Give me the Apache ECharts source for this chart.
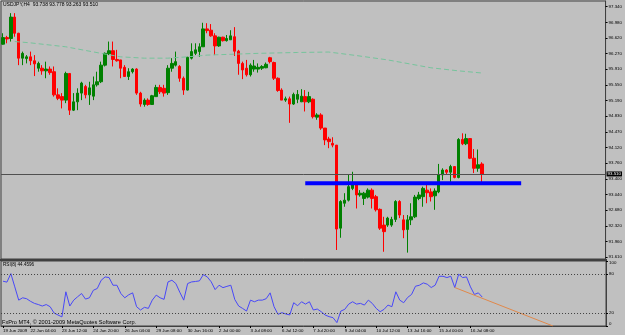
<!DOCTYPE html>
<html><head><meta charset="utf-8">
<script src="https://cdn.jsdelivr.net/npm/echarts@6/dist/echarts.min.js"></script>
<style>html,body{margin:0;padding:0;background:#c0c0c0}#c{width:625px;height:335px}</style>
</head><body><div id="c"></div><script>
const symbolTitle = 'USDJPY,H4  93.738 93.778 93.263 93.510';
const rsiTitle = 'RSI(8) 44.4596';
const footerText = 'FxPro MT4, \u00a9 2001-2009 MetaQuotes Software Corp.';
const timeLabels = ['19 Jun 2009','22 Jun 04:00','23 Jun 12:00','24 Jun 20:00','26 Jun 04:00','29 Jun 08:00','30 Jun 16:00','2 Jul 00:00','3 Jul 08:00','6 Jul 12:00','7 Jul 20:00','9 Jul 04:00','10 Jul 12:00','13 Jul 16:00','15 Jul 00:00','16 Jul 08:00'];
const priceTicks = [97.34,96.98,96.62,96.27,95.91,95.55,95.19,94.83,94.47,94.12,93.76,93.40,93.04,92.68,92.32,91.96,91.61];
const rsiTicks = [0,20,80,100];
const bidPrice = 93.51;
// [open, close, low, high]
const candles = [
[96.48,96.63,96.47,96.73],[96.63,96.60,96.50,96.67],[96.61,97.10,96.54,97.19],[97.10,96.73,96.65,97.19],
[96.73,96.16,96.00,96.74],[96.16,96.27,96.00,96.31],[96.15,96.19,96.04,96.23],[96.19,96.10,96.00,96.31],
[96.10,96.03,95.75,96.23],[95.93,96.04,95.85,96.08],[95.93,95.87,95.78,96.00],[95.87,95.91,95.70,96.08],
[95.91,95.83,95.78,95.97],[95.85,95.32,95.28,95.97],[95.32,95.24,95.20,95.47],[95.28,95.20,95.01,95.36],
[95.20,95.81,95.13,95.85],[95.81,94.97,94.86,95.81],[94.97,95.16,94.95,95.36],[95.16,95.36,94.97,95.47],
[95.36,95.59,95.20,95.62],[95.51,95.32,95.24,95.55],[95.32,95.48,95.09,95.62],[95.29,95.55,95.20,95.74],
[95.55,95.62,95.51,95.85],[95.62,96.00,95.59,96.08],[96.00,96.27,95.97,96.29],[96.26,96.33,96.23,96.54],
[96.33,96.13,95.97,96.54],[96.13,96.10,96.08,96.35],[96.12,95.93,95.70,96.12],[95.95,95.74,95.73,96.00],
[95.74,95.85,95.66,95.93],[95.85,95.91,95.81,95.93],[95.91,95.36,95.32,95.93],[95.36,95.11,95.05,95.39],
[95.10,95.20,95.05,95.24],[95.20,95.10,95.07,95.24],[95.10,95.30,95.09,95.32],[95.28,95.49,95.28,95.55],
[95.49,95.39,95.34,95.55],[95.47,95.36,95.28,95.55],[95.37,95.93,95.32,96.00],[95.93,96.04,95.85,96.16],
[96.00,96.08,95.97,96.31],[95.97,95.70,95.62,96.00],[95.70,95.43,95.32,95.74],[95.43,96.18,95.42,96.19],
[96.16,96.31,96.13,96.50],[96.27,96.35,96.23,96.50],[96.31,96.42,96.19,96.50],[96.42,96.83,96.42,96.97],
[96.83,96.79,96.73,96.96],[96.80,96.67,96.65,96.94],[96.67,96.44,96.23,96.73],[96.44,96.64,96.42,96.65],
[96.64,96.56,96.54,96.65],[96.56,96.61,96.54,96.69],[96.58,96.67,96.58,96.80],[96.65,96.32,96.21,96.87],
[96.32,96.04,95.78,96.35],[96.04,95.89,95.68,96.08],[95.93,95.78,95.74,96.12],[95.78,96.00,95.74,96.04],
[95.91,95.98,95.85,96.12],[95.91,95.95,95.83,96.04],[95.93,95.97,95.89,96.00],[95.94,96.02,95.93,96.06],
[96.17,96.08,96.04,96.19],[96.06,95.70,95.66,96.08],[95.70,95.42,95.39,95.72],[95.43,95.20,95.20,95.47],
[95.20,95.23,95.16,95.28],[95.23,95.11,94.68,95.28],[95.11,95.33,95.09,95.37],[95.22,95.33,95.13,95.43],
[95.16,95.29,95.16,95.45],[95.28,95.16,94.94,95.43],[95.16,95.28,95.13,95.39],[95.22,94.82,94.78,95.24],
[94.81,94.86,94.75,94.90],[94.86,94.56,94.52,94.90],[94.56,94.29,94.17,94.56],[94.31,94.25,94.10,94.36],
[94.21,94.17,94.12,94.35],[94.17,92.25,91.77,94.17],[92.27,92.88,92.05,92.91],[92.84,92.91,92.76,93.07],
[92.91,93.22,92.88,93.49],[93.18,93.30,93.14,93.56],[93.30,93.03,92.72,93.30],[93.03,93.07,92.99,93.14],
[92.95,93.07,92.80,93.10],[92.98,93.14,92.95,93.18],[93.14,92.95,92.72,93.18],[92.99,92.69,92.65,93.03],
[92.70,92.27,92.23,92.72],[92.34,92.19,91.73,92.53],[92.34,92.50,92.30,92.53],[92.34,92.47,92.30,92.53],
[92.47,92.88,92.41,92.91],[92.88,92.57,92.50,92.91],[92.46,92.23,92.04,92.57],[92.24,92.46,91.71,92.57],
[92.46,92.53,92.34,92.84],[92.53,92.98,92.50,93.03],[92.95,93.03,92.91,93.10],[92.99,93.18,92.76,93.22],
[93.14,93.08,92.84,93.31],[93.10,92.99,92.88,93.18],[93.01,93.12,92.69,93.18],[93.10,93.49,93.07,93.74],
[93.49,93.60,93.37,93.64],[93.60,93.55,93.49,93.62],[93.55,93.68,93.30,93.72],[93.68,93.43,93.41,93.69],
[93.43,94.30,93.41,94.33],[94.30,94.20,94.17,94.44],[94.20,94.32,94.17,94.43],[94.32,93.87,93.85,94.33],
[93.87,93.64,93.53,94.08],[93.64,93.72,93.56,94.07],[93.738,93.51,93.263,93.778]
];
const maPoints = [[3,96.54],[7,96.51],[16,96.42],[25,96.27],[30,96.19],[36,96.16],[42,96.16],[47,96.19],[52,96.23],[65,96.27],[75,96.29],[83,96.30],[90,96.22],[98,96.12],[109,95.94],[116,95.87],[122,95.82]];
const rsiValues = [68.9,67.5,80.6,60.2,39.8,43.4,42,38,34.8,33,30.7,33,29.7,20,16.9,14,52.6,30.7,39.8,45,
50,41.4,43.4,55,57.7,70.4,75.5,74.5,62.7,62.7,50,43.4,48,51,29.7,24.6,28.7,27.1,39.8,47.5,
43.4,41,67.8,70.4,65.3,52,39.8,65.3,67.8,68.5,69.4,79,75.5,68,56,62.7,59,61,62.7,40.8,
30.7,27,23,39.8,37.3,39.8,39.8,42,51,29.7,18,20.5,18.5,17,35.8,31.2,37.3,33.7,37.3,24.6,
26.1,22,16.9,14.4,12.9,5.2,23,25.6,33.7,37.3,33.7,34.8,32.2,39.8,34.8,27.1,22,25.6,32.2,29.7,
52.6,39.8,35.8,43.9,48.5,61.2,62.7,66.3,64.3,59.2,62.7,76.5,76.5,74.5,76.5,59.2,79.6,74.5,75.5,60.2,
48.5,51,44.46];
const supportLine = [[77,93.30],[132,93.30]];
const rsiTrend = [[115,59.2],[140,0]];
const slotCount = 154;

const categories = Array.from({length: slotCount}, (_, i) => String(i));
const FONT = 'Liberation Sans, Arial, sans-serif';
function isTimeTick(i){ return i === 0 || (i >= 7 && (i - 7) % 8 === 0 && (i - 7) / 8 + 1 < timeLabels.length); }
function timeText(i){ return i === 0 ? timeLabels[0] : timeLabels[(i - 7) / 8 + 1]; }

const chart = echarts.init(document.getElementById('c'), null, {renderer: 'canvas'});
chart.setOption({
  animation: false,
  backgroundColor: '#c0c0c0',
  title: [
    {text: symbolTitle, left: 3, top: 2.5, padding: 0, textStyle: {fontSize: 5, fontWeight: 'normal', color: '#000', fontFamily: FONT}},
    {text: rsiTitle, left: 3, top: 262, padding: 0, textStyle: {fontSize: 4.6, fontWeight: 'normal', color: '#000', fontFamily: FONT}},
    {text: footerText, left: 2, top: 319.5, padding: 0, textStyle: {fontSize: 5.6, fontWeight: 'normal', color: '#000', fontFamily: FONT}}
  ],
  grid: [
    {left: 1, top: 1, width: 605, height: 258, show: true, borderColor: '#404040', borderWidth: 1, backgroundColor: '#c0c0c0'},
    {left: 1, top: 261, width: 605, height: 65, show: true, borderColor: '#404040', borderWidth: 1, backgroundColor: '#c0c0c0'}
  ],
  graphic: [{type: 'rect', shape: {x: 0, y: 259, width: 607, height: 2}, style: {fill: '#404040'}, z: 100}],
  xAxis: [
    {type: 'category', gridIndex: 0, data: categories, boundaryGap: true, axisLine: {show: false}, axisTick: {show: false}, axisLabel: {show: false}, splitLine: {show: false}},
    {type: 'category', gridIndex: 1, data: categories, boundaryGap: true,
      axisLine: {show: true, lineStyle: {color: '#404040', width: 1}},
      axisTick: {show: true, alignWithLabel: true, length: 2, interval: (i) => isTimeTick(i), lineStyle: {color: '#000'}},
      axisLabel: {show: true, interval: (i) => isTimeTick(i), formatter: (v, i) => timeText(i), align: 'left', margin: 2.5, fontSize: 4.4, color: '#000', fontFamily: FONT},
      splitLine: {show: false}}
  ],
  yAxis: [
    {type: 'value', gridIndex: 0, position: 'right', min: 91.564, max: 97.468, scale: true,
      axisLine: {show: true, lineStyle: {color: '#404040'}},
      axisTick: {show: true, inside: false, length: 2, customValues: priceTicks, lineStyle: {color: '#000'}},
      axisLabel: {show: true, customValues: priceTicks, formatter: (v) => v.toFixed(3), margin: 3, fontSize: 4.4, color: '#000', fontFamily: FONT},
      splitLine: {show: false}},
    {type: 'value', gridIndex: 1, position: 'right', min: 0, max: 100,
      axisLine: {show: true, lineStyle: {color: '#404040'}},
      axisTick: {show: true, inside: false, length: 2, customValues: rsiTicks, lineStyle: {color: '#000'}},
      axisLabel: {show: true, customValues: rsiTicks, verticalAlignMinLabel: 'bottom', verticalAlignMaxLabel: 'top', margin: 3, fontSize: 4.4, color: '#000', fontFamily: FONT},
      splitLine: {show: false}}
  ],
  series: [
    {type: 'candlestick', xAxisIndex: 0, yAxisIndex: 0, data: candles, barWidth: 3,
      itemStyle: {color: '#008000', color0: '#ff0000', borderColor: '#008000', borderColor0: '#ff0000', borderWidth: 1},
      markLine: {symbol: 'none', silent: true, animation: false,
        data: [{yAxis: bidPrice}],
        lineStyle: {color: '#505050', width: 1, type: 'solid'},
        label: {show: true, position: 'end', formatter: bidPrice.toFixed(3), color: '#fff', backgroundColor: '#000', fontSize: 4.4, padding: [1, 1, 0, 1], distance: 1, fontFamily: FONT}}},
    {type: 'line', xAxisIndex: 0, yAxisIndex: 0, data: maPoints, showSymbol: false, symbol: 'none',
      lineStyle: {color: '#76c49c', width: 1, type: [5, 3]}},
    {type: 'line', xAxisIndex: 0, yAxisIndex: 0, data: supportLine, showSymbol: false, symbol: 'none',
      lineStyle: {color: '#0000ff', width: 4}},
    {type: 'line', xAxisIndex: 1, yAxisIndex: 1, data: rsiValues, showSymbol: false, symbol: 'none',
      lineStyle: {color: '#4848f8', width: 1},
      markLine: {symbol: 'none', silent: true, animation: false, label: {show: false},
        lineStyle: {color: '#404040', width: 1, type: [1, 2]},
        data: [{yAxis: 80}, {yAxis: 20}]}},
    {type: 'line', xAxisIndex: 1, yAxisIndex: 1, data: rsiTrend, showSymbol: false, symbol: 'none',
      lineStyle: {color: '#e0884a', width: 1}}
  ]
});
</script></body></html>
